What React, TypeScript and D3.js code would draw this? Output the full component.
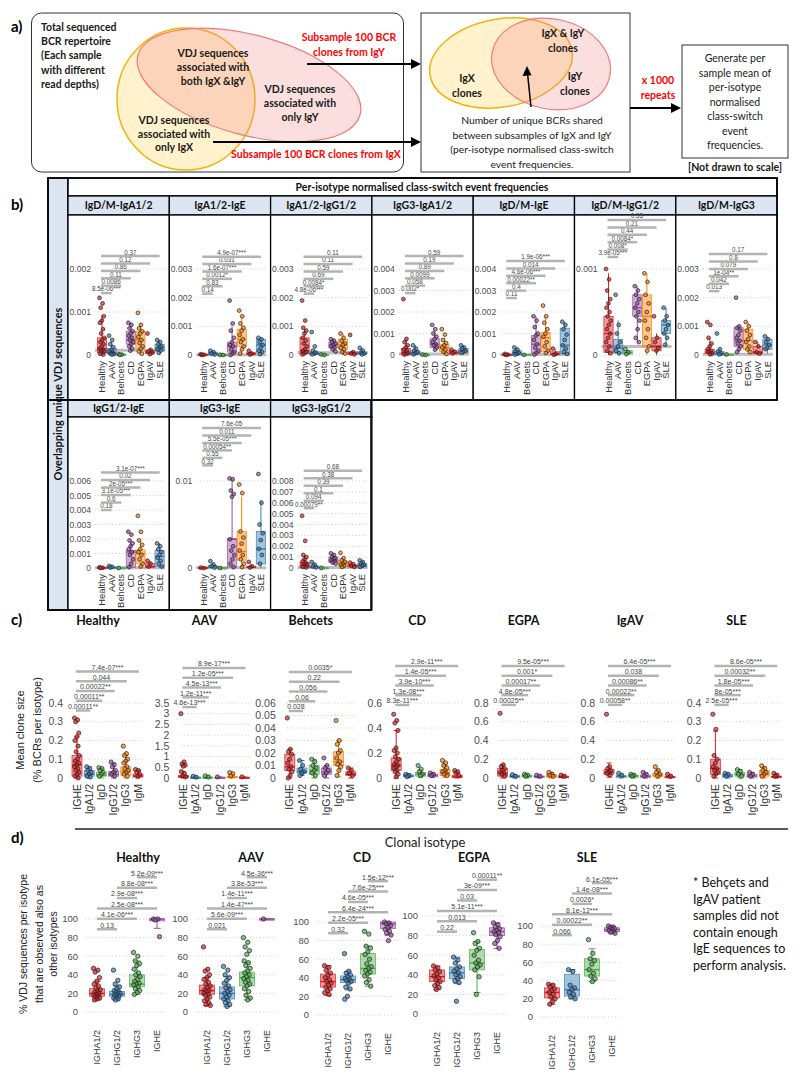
import React from "react";
import * as d3 from "d3";

const RED = "#E41A1C", BLUE = "#377EB8", GREEN = "#4DAF4A", PURPLE = "#984EA3", ORANGE = "#FF7F00";
const FONT = "'Liberation Sans', Arial, sans-serif";
const HFONT = "Lato, 'Open Sans', sans-serif";

// ---------------- Panel b data (values in units of 0.001) ----------------
const bGroups = ["Healthy", "AAV", "Behcets", "CD", "EGPA", "IgAV", "SLE"];
const bColors = [RED, BLUE, GREEN, PURPLE, ORANGE, RED, BLUE];
const bTitles = ["IgD/M-IgA1/2", "IgA1/2-IgE", "IgA1/2-IgG1/2", "IgG3-IgA1/2", "IgD/M-IgE", "IgD/M-IgG1/2", "IgD/M-IgG3", "IgG1/2-IgE", "IgG3-IgE", "IgG3-IgG1/2"];
const bTicks = [[0, 1, 2], [0, 1, 2, 3], [0, 1, 2, 3], [0, 1, 2, 3, 4], [0, 1, 2, 3, 4], [0, 1], [0, 1, 2, 3], [0, 1, 2, 3, 4, 5, 6], [0, 10], [0, 1, 2, 3, 4, 5, 6, 7, 8]];
const bTickLabels = [
  ["0", "0.001", "0.002"],
  ["0", "0.001", "0.002", "0.003"],
  ["0", "0.001", "0.002", "0.003"],
  ["0", "0.001", "0.002", "0.003", "0.004"],
  ["0", "0.001", "0.002", "0.003", "0.004"],
  ["0", "0.001"],
  ["0", "0.001", "0.002", "0.003"],
  ["0", "0.001", "0.002", "0.003", "0.004", "0.005", "0.006"],
  ["0", "0.01"],
  ["0", "0.001", "0.002", "0.003", "0.004", "0.005", "0.006", "0.007", "0.008"],
];
const bP = [
  ["0.37", "0.12", "0.86", "0.11", "0.0086", "8.5e-06***"],
  ["4.9e-07***", "0.031", "1.6e-07***", "0.0012*", "0.83", "0.14"],
  ["0.11", "0.11", "0.59", "0.69", "0.0084*", "4.8e-06***"],
  ["0.59", "0.19", "0.89", "0.0099", "0.058", "0.002*"],
  ["1.9e-06***", "0.014", "4.6e-06***", "0.00022**", "0.4", "0.11"],
  ["0.55", "0.21", "0.44", "0.0084*", "0.008*", "3.9e-05***"],
  ["0.17", "0.8", "0.079", "1e-04**", "0.042", "0.013"],
  ["3.1e-07***", "0.02", "2e-05***", "3.1e-05***", "0.6", "0.18"],
  ["7.6e-05", "0.011", "5.5e-05***", "0.00054**", "0.55", "0.32"],
  ["0.68", "0.38", "0.39", "0.1", "0.094", "0.00079**"],
];
const bBracketBase = [1.44, 2.14, 2.14, 2.88, 2.65, 1.14, 2.23, 4.0, 11.8, 5.5];
const bRef = [0.11, 0.01, 0.08, 0.05, 0.02, 0.1, 0.03, 0.01, 0.02, 0.05];
// [lo, q1, median, q3, hi] per group
const bStats = [
  [[0, 0.05, 0.15, 0.4, 0.93], [0, 0.02, 0.05, 0.15, 0.3], [0, 0.005, 0.01, 0.02, 0.03], [0.1, 0.25, 0.35, 0.55, 0.75], [0, 0.15, 0.35, 0.55, 0.75], [0, 0.03, 0.06, 0.1, 0.15], [0.02, 0.1, 0.17, 0.25, 0.35]],
  [[0, 0, 0.01, 0.02, 0.03], [0, 0.02, 0.05, 0.1, 0.15], [0, 0, 0.005, 0.01, 0.01], [0, 0.1, 0.3, 0.45, 1.0], [0, 0.3, 0.55, 0.9, 1.35], [0, 0.02, 0.04, 0.08, 0.12], [0, 0.1, 0.35, 0.55, 0.6]],
  [[0, 0.05, 0.15, 0.6, 0.9], [0, 0.02, 0.05, 0.1, 0.2], [0, 0, 0.01, 0.02, 0.02], [0.1, 0.25, 0.35, 0.45, 0.55], [0, 0.2, 0.35, 0.55, 0.75], [0, 0.02, 0.05, 0.1, 0.15], [0, 0.03, 0.05, 0.1, 0.25]],
  [[0, 0.03, 0.1, 0.3, 0.8], [0, 0.03, 0.1, 0.2, 0.45], [0, 0, 0.01, 0.02, 0.03], [0.2, 0.35, 0.5, 0.75, 1.1], [0, 0.15, 0.35, 0.5, 0.8], [0, 0.05, 0.1, 0.2, 0.25], [0, 0.1, 0.2, 0.3, 0.45]],
  [[0, 0, 0.01, 0.02, 0.05], [0, 0.02, 0.1, 0.2, 0.35], [0, 0, 0.01, 0.02, 0.02], [0, 0.1, 0.5, 0.9, 1.8], [0, 0.15, 0.8, 1.05, 1.8], [0, 0.02, 0.05, 0.15, 0.3], [0, 0.05, 0.45, 1.25, 1.55]],
  [[0, 0.03, 0.25, 0.45, 0.95], [0, 0.02, 0.08, 0.18, 0.4], [0, 0.01, 0.03, 0.05, 0.07], [0.15, 0.45, 0.55, 0.7, 0.8], [0, 0.1, 0.45, 0.7, 0.95], [0, 0.05, 0.1, 0.2, 0.25], [0.1, 0.25, 0.35, 0.4, 0.55]],
  [[0, 0.05, 0.1, 0.2, 0.6], [0, 0.02, 0.05, 0.12, 0.2], [0, 0, 0.01, 0.02, 0.03], [0.1, 0.3, 0.5, 0.95, 1.0], [0, 0.2, 0.5, 0.9, 1.15], [0, 0.05, 0.1, 0.3, 0.45], [0.05, 0.2, 0.35, 0.55, 0.65]],
  [[0, 0, 0.01, 0.03, 0.05], [0, 0.01, 0.03, 0.07, 0.15], [0, 0, 0, 0.01, 0.01], [0, 0.05, 1.1, 1.2, 1.9], [0, 0.3, 1.0, 1.25, 1.9], [0, 0.05, 0.1, 0.3, 0.5], [0, 0.1, 0.8, 1.2, 1.7]],
  [[0, 0, 0, 0.05, 0.1], [0, 0.05, 0.1, 0.3, 0.5], [0, 0, 0, 0.02, 0.05], [0, 0.1, 3.3, 3.4, 10.3], [0, 0.9, 1.9, 4.2, 8.2], [0, 0.05, 0.1, 0.2, 0.4], [0, 0.45, 2.2, 4.2, 7.8]],
  [[0, 0.05, 0.25, 0.5, 1.2], [0, 0.02, 0.1, 0.2, 0.5], [0, 0, 0.01, 0.02, 0.03], [0.3, 0.5, 0.7, 1.0, 1.35], [0, 0.2, 0.4, 0.65, 0.9], [0, 0.1, 0.2, 0.3, 0.5], [0, 0.1, 0.25, 0.4, 0.7]],
];
const bPts = [
  [[1.33, 1.2, 1.1, 0.9, 0.8, 0.75, 0.6, 0.5, 0.4, 0.35, 0.3, 0.25, 0.2, 0.15, 0.12, 0.1, 0.08, 0.05, 0.03, 0.01], [0.45, 0.35, 0.25, 0.18, 0.12, 0.08, 0.05, 0.03, 0.02, 0.01], [0.02, 0.01, 0.005], [0.75, 0.7, 0.62, 0.55, 0.5, 0.45, 0.4, 0.35, 0.3, 0.25, 0.2, 0.15, 0.1], [0.98, 0.7, 0.62, 0.55, 0.5, 0.42, 0.35, 0.28, 0.2, 0.15, 0.08, 0.03], [0.5, 0.12, 0.08, 0.05, 0.02], [0.35, 0.3, 0.25, 0.2, 0.17, 0.13, 0.1, 0.05]],
  [[0.03, 0.01, 0], [0.15, 0.1, 0.05, 0.02], [0.01, 0], [1.9, 1.1, 0.85, 0.6, 0.45, 0.35, 0.3, 0.2, 0.1, 0.05, 0], [1.55, 1.35, 1.1, 0.95, 0.85, 0.7, 0.55, 0.45, 0.3, 0.2, 0.05], [0.15, 0.05, 0.02], [0.6, 0.55, 0.45, 0.35, 0.25, 0.15, 0.1, 0.03]],
  [[1.9, 1.2, 0.95, 0.85, 0.75, 0.6, 0.5, 0.4, 0.3, 0.2, 0.15, 0.1, 0.05, 0.02], [0.8, 0.3, 0.15, 0.08, 0.05, 0.02], [0.02, 0], [0.55, 0.5, 0.45, 0.4, 0.35, 0.3, 0.25, 0.2, 0.12], [0.75, 0.6, 0.5, 0.4, 0.35, 0.25, 0.2, 0.1, 0.05], [0.7, 0.1, 0.05, 0.02], [0.25, 0.15, 0.08, 0.05, 0.02]],
  [[2.6, 0.75, 0.6, 0.45, 0.35, 0.25, 0.2, 0.12, 0.08, 0.05, 0.02], [0.45, 0.3, 0.2, 0.12, 0.08, 0.03], [0.02, 0], [1.4, 1.2, 1.0, 0.85, 0.75, 0.6, 0.5, 0.45, 0.35, 0.25], [1.2, 0.95, 0.7, 0.55, 0.45, 0.35, 0.25, 0.15, 0.05], [0.25, 0.15, 0.08], [0.45, 0.35, 0.3, 0.2, 0.15, 0.1]],
  [[0.05, 0.02, 0], [0.35, 0.25, 0.15, 0.1, 0.05, 0.02], [0.01], [1.8, 1.6, 1.3, 1.0, 0.9, 0.7, 0.5, 0.35, 0.2, 0.1, 0.02], [2.3, 1.8, 1.5, 1.2, 1.0, 0.85, 0.6, 0.4, 0.2, 0.1], [0.3, 0.05, 0.01], [1.55, 1.4, 1.2, 0.95, 0.7, 0.45, 0.3, 0.15, 0.05]],
  [[1.0, 0.88, 0.75, 0.65, 0.6, 0.55, 0.5, 0.45, 0.4, 0.35, 0.3, 0.25, 0.2, 0.15, 0.1, 0.05, 0.02], [0.7, 0.35, 0.25, 0.15, 0.1, 0.05, 0.02], [0.07, 0.03, 0.01], [0.8, 0.75, 0.7, 0.65, 0.6, 0.55, 0.5, 0.45, 0.4, 0.3, 0.2, 0.15], [0.95, 0.85, 0.7, 0.6, 0.5, 0.4, 0.3, 0.2, 0.1, 0.05], [0.45, 0.2, 0.15, 0.08, 0.05], [0.55, 0.45, 0.4, 0.35, 0.3, 0.25, 0.2, 0.12]],
  [[1.15, 1.05, 0.6, 0.4, 0.3, 0.2, 0.15, 0.1, 0.05, 0.02], [0.75, 0.2, 0.12, 0.05, 0.02], [0.02], [2.0, 1.0, 0.95, 0.85, 0.7, 0.6, 0.5, 0.4, 0.3, 0.2, 0.1], [1.15, 1.0, 0.85, 0.7, 0.55, 0.45, 0.3, 0.2, 0.1], [0.45, 0.3, 0.1, 0.05], [0.65, 0.55, 0.45, 0.35, 0.25, 0.2]],
  [[0.05, 0.02, 0], [0.15, 0.08, 0.03], [0], [2.5, 2.3, 1.9, 1.7, 1.5, 1.3, 1.1, 0.9, 0.6, 0.3, 0.05], [3.6, 2.5, 1.9, 1.6, 1.3, 1.1, 0.9, 0.6, 0.3, 0.1], [0.5, 0.3, 0.1], [1.7, 1.5, 1.3, 1.1, 0.9, 0.7, 0.5, 0.3, 0.1]],
  [[0.05, 0], [0.8, 0.4, 0.2, 0.05], [0], [10.3, 10.2, 8.9, 8.5, 8.2, 3.3, 2.5, 2.0, 1.5, 1.0, 0.5, 0.1], [9.6, 8.6, 4.2, 3.5, 2.8, 2.0, 1.5, 1.0, 0.5, 0.1], [0.7, 0.2, 0.05], [10.8, 7.5, 5.0, 4.0, 3.2, 2.2, 1.5, 0.5]],
  [[4.8, 2.5, 1.2, 1.0, 0.8, 0.6, 0.5, 0.4, 0.3, 0.2, 0.1, 0.05], [0.55, 0.3, 0.15, 0.05], [0.01], [1.35, 1.2, 1.0, 0.9, 0.8, 0.7, 0.6, 0.5, 0.4], [1.4, 0.9, 0.7, 0.55, 0.4, 0.3, 0.2, 0.1], [0.5, 0.35, 0.2, 0.1], [0.7, 0.55, 0.4, 0.3, 0.2, 0.1]],
];

// ---------------- Panel c data ----------------
const cTitles = ["Healthy", "AAV", "Behcets", "CD", "EGPA", "IgAV", "SLE"];
const cGroups = ["IGHE", "IgA1/2", "IgD", "IgG1/2", "IgG3", "IgM"];
const cColors = [RED, BLUE, GREEN, PURPLE, ORANGE, RED];
const cTicks = [[0, 0.1, 0.2, 0.3, 0.4], [0, 0.5, 1, 1.5, 2, 2.5, 3, 3.5], [0, 0.01, 0.02, 0.03, 0.04, 0.05, 0.06], [0, 0.2, 0.4, 0.6], [0, 0.2, 0.4, 0.6, 0.8], [0, 0.2, 0.4, 0.6, 0.8], [0, 0.1, 0.2, 0.3, 0.4]];
const cTickLabels = [
  ["0", "0.1", "0.2", "0.3", "0.4"],
  ["0", "0.5", "1", "1.5", "2", "2.5", "3", "3.5"],
  ["0", "0.01", "0.02", "0.03", "0.04", "0.05", "0.06"],
  ["0", "0.2", "0.4", "0.6"],
  ["0", "0.2", "0.4", "0.6", "0.8"],
  ["0", "0.2", "0.4", "0.6", "0.8"],
  ["0", "0.1", "0.2", "0.3", "0.4"],
];
const cP = [
  ["7.4e-07***", "0.044", "0.00022**", "0.00011**", "0.00011**"],
  ["8.9e-17***", "1.2e-05***", "4.5e-13***", "1.2e-11***", "4.6e-13***"],
  ["0.0035*", "0.22", "0.056", "0.06", "0.028"],
  ["2.9e-11***", "1.4e-05***", "3.9e-10***", "1.3e-08***", "8.3e-11***"],
  ["9.5e-05***", "0.001*", "0.00017**", "4.8e-05***", "0.00025**"],
  ["6.4e-05***", "0.038", "0.00086**", "0.00022**", "0.00058**"],
  ["8.6e-05***", "0.00032**", "1.8e-05***", "8e-05***", "2.5e-05***"],
];
const cBracketBase = [0.36, 3.31, 0.0536, 0.584, 0.78, 0.78, 0.39];
const cStats = [
  [[0, 0.01, 0.07, 0.12, 0.22], [0, 0.01, 0.02, 0.04, 0.06], [0, 0.01, 0.015, 0.03, 0.05], [0, 0.01, 0.02, 0.035, 0.08], [0, 0.015, 0.035, 0.06, 0.12], [0, 0.005, 0.01, 0.02, 0.04]],
  [[0, 0.02, 0.07, 0.12, 0.3], [0, 0.01, 0.02, 0.04, 0.08], [0, 0.01, 0.02, 0.04, 0.1], [0, 0.01, 0.02, 0.03, 0.05], [0, 0.02, 0.04, 0.08, 0.15], [0, 0.01, 0.02, 0.03, 0.05]],
  [[0, 0.006, 0.009, 0.019, 0.023], [0.002, 0.004, 0.005, 0.008, 0.014], [0, 0.003, 0.006, 0.01, 0.015], [0, 0.003, 0.005, 0.008, 0.01], [0.001, 0.01, 0.013, 0.021, 0.03], [0, 0.002, 0.003, 0.005, 0.008]],
  [[0, 0.06, 0.1, 0.16, 0.38], [0.005, 0.01, 0.015, 0.025, 0.035], [0.005, 0.015, 0.03, 0.045, 0.06], [0.005, 0.01, 0.02, 0.03, 0.04], [0.005, 0.02, 0.04, 0.07, 0.1], [0, 0.005, 0.01, 0.02, 0.04]],
  [[0, 0.02, 0.05, 0.1, 0.14], [0, 0.01, 0.015, 0.025, 0.035], [0, 0.01, 0.02, 0.03, 0.04], [0, 0.01, 0.015, 0.02, 0.03], [0, 0.01, 0.02, 0.04, 0.06], [0, 0.005, 0.01, 0.02, 0.03]],
  [[0.01, 0.04, 0.06, 0.09, 0.16], [0, 0.01, 0.015, 0.025, 0.04], [0, 0.01, 0.02, 0.03, 0.04], [0, 0.01, 0.015, 0.03, 0.05], [0, 0.015, 0.03, 0.05, 0.09], [0, 0.005, 0.01, 0.015, 0.03]],
  [[0, 0.02, 0.05, 0.1, 0.25], [0, 0.005, 0.01, 0.02, 0.025], [0, 0.01, 0.02, 0.03, 0.045], [0, 0.005, 0.01, 0.02, 0.03], [0, 0.01, 0.02, 0.04, 0.06], [0, 0.003, 0.006, 0.01, 0.02]],
];
const cPts = [
  [[0.32, 0.31, 0.3, 0.24, 0.22, 0.2, 0.17, 0.14, 0.12, 0.1, 0.09, 0.08, 0.07, 0.06, 0.05, 0.04, 0.03, 0.02, 0.01, 0], [0.06, 0.05, 0.04, 0.03, 0.02, 0.01, 0.005], [0.055, 0.05, 0.04, 0.03, 0.02, 0.01], [0.085, 0.07, 0.06, 0.04, 0.03, 0.02, 0.01], [0.17, 0.13, 0.12, 0.1, 0.09, 0.08, 0.06, 0.05, 0.04, 0.03, 0.02, 0.01], [0.045, 0.04, 0.03, 0.02, 0.01]],
  [[3.0, 0.75, 0.65, 0.6, 0.55, 0.3, 0.2, 0.1, 0.05], [0.08, 0.04], [0.1, 0.05], [0.05], [0.25, 0.2, 0.1], [0.05]],
  [[0.048, 0.023, 0.021, 0.019, 0.015, 0.012, 0.009, 0.007, 0.005, 0.002, 0], [0.014, 0.01, 0.007, 0.005, 0.004, 0.002], [0.015, 0.013, 0.01, 0.008, 0.006, 0.004, 0.002], [0.016, 0.01, 0.008, 0.006, 0.004, 0.002], [0.046, 0.03, 0.027, 0.022, 0.02, 0.016, 0.013, 0.011, 0.009, 0.006, 0.002], [0.008, 0.006, 0.004, 0.002]],
  [[0.51, 0.46, 0.44, 0.38, 0.24, 0.22, 0.2, 0.17, 0.15, 0.13, 0.11, 0.1, 0.09, 0.08, 0.06, 0.05, 0.03, 0.01], [0.03, 0.02, 0.01], [0.1, 0.07, 0.05, 0.03, 0.02], [0.04, 0.03, 0.02], [0.14, 0.12, 0.1, 0.08, 0.06, 0.05, 0.04, 0.03, 0.02], [0.06, 0.05, 0.04, 0.02]],
  [[0.69, 0.14, 0.12, 0.1, 0.08, 0.06, 0.05, 0.04, 0.02], [0.035, 0.02], [0.04, 0.03, 0.02], [0.03, 0.02], [0.06, 0.04, 0.03, 0.02], [0.03, 0.02]],
  [[0.68, 0.12, 0.1, 0.08, 0.06, 0.05, 0.03], [0.05, 0.03], [0.04, 0.03, 0.02], [0.06, 0.04, 0.02], [0.12, 0.08, 0.06, 0.04, 0.02], [0.04, 0.02]],
  [[0.34, 0.26, 0.12, 0.1, 0.08, 0.06, 0.05, 0.04, 0.03, 0.02, 0.01], [0.025, 0.02, 0.01], [0.045, 0.035, 0.02, 0.01], [0.03, 0.02, 0.01], [0.065, 0.05, 0.04, 0.03, 0.02, 0.01], [0.025, 0.015, 0.01]],
];

// ---------------- Panel d data ----------------
const dTitles = ["Healthy", "AAV", "CD", "EGPA", "SLE"];
const dGroups = ["IGHA1/2", "IGHG1/2", "IGHG3", "IGHE"];
const dColors = [RED, BLUE, GREEN, PURPLE];
const dTicks = [0, 20, 40, 60, 80, 100];
const dTickLabels = ["0", "20", "40", "60", "80", "100"];
const dP = [
  ["5.2e-09***", "8.8e-08***", "2.9e-08***", "2.5e-08***", "4.1e-06***", "0.13"],
  ["4.5e-36***", "3.8e-53***", "1.4e-11***", "1.4e-47***", "5.6e-09***", "0.021"],
  ["1.5e-12***", "7.6e-25***", "4.6e-05***", "6.4e-24***", "2.2e-05***", "0.32"],
  ["0.00011**", "3e-09***", "0.03", "5.1e-11***", "0.013", "0.22"],
  ["6.1e-05***", "1.4e-08***", "0.0026*", "8.1e-12***", "0.00022**", "0.066"],
];
const dPairs = [[0, 1], [0, 2], [0, 3], [1, 2], [1, 3], [2, 3]];
const dBracketBase = [89, 89, 88, 84, 90];
const dStats = [
  [[13, 17, 20, 25, 33], [13, 17, 19, 22, 28], [19, 27, 30, 40, 55], [90, 98, 100, 100, 100]],
  [[7, 19, 23, 29, 37], [6, 14, 20, 27, 38], [13, 28, 37, 43, 53], [100, 100, 100, 100, 100]],
  [[21, 30, 36, 44, 53], [27, 35, 38, 42, 47], [31, 44, 50, 66, 74], [86, 93, 98, 100, 100]],
  [[25, 33, 38, 45, 49], [31, 36, 42, 48, 58], [22, 45, 52, 66, 74], [67, 80, 84, 88, 93]],
  [[14, 21, 27, 32, 36], [20, 23, 30, 47, 52], [39, 45, 52, 64, 75], [92, 94, 96, 98, 100]],
];
const dPts = [
  [[47, 45, 43, 37, 33, 30, 28, 26, 24, 22, 21, 20, 19, 18, 17, 16, 15, 14, 13], [45, 34, 30, 27, 25, 23, 22, 21, 20, 19, 18, 17, 16, 15, 14, 13], [64, 60, 55, 52, 50, 46, 42, 40, 38, 35, 33, 31, 30, 29, 27, 25, 23, 21, 19], [100, 100, 99, 81]],
  [[70, 46, 44, 40, 37, 35, 32, 30, 28, 26, 24, 23, 22, 20, 19, 18, 16, 14, 12, 10, 8, 7], [49, 45, 40, 37, 34, 31, 28, 26, 24, 22, 20, 18, 16, 14, 12, 10, 8, 6], [80, 75, 70, 66, 62, 55, 53, 50, 47, 44, 42, 40, 38, 36, 34, 32, 30, 28, 25, 22, 18, 15, 13], [100]],
  [[53, 51, 48, 45, 43, 40, 38, 36, 34, 32, 30, 28, 26, 24, 22], [66, 47, 45, 43, 41, 39, 38, 37, 36, 34, 30, 28, 20, 17], [90, 87, 74, 72, 68, 65, 60, 55, 52, 50, 48, 46, 44, 42, 38, 35, 31], [100, 99, 98, 96, 94, 92, 90, 88, 86, 80]],
  [[49, 47, 45, 43, 41, 39, 37, 35, 33, 31, 29, 27, 25], [58, 55, 52, 48, 46, 44, 42, 40, 38, 36, 34, 32, 13], [83, 74, 72, 67, 65, 60, 55, 52, 50, 48, 45, 38, 20], [93, 91, 89, 87, 85, 84, 83, 81, 79, 75, 72, 67]],
  [[36, 35, 33, 31, 29, 27, 25, 22, 20, 17, 14], [52, 50, 35, 32, 30, 27, 25, 22, 20], [85, 70, 64, 62, 58, 52, 48, 45, 42, 39], [100, 99, 98, 97, 96, 95, 94, 93, 92]],
];

// ---------------- layout ----------------
const D_LAYOUT = [
  { cat0: 97, y0: 1012, y100: 919, tx: 138 },
  { cat0: 207, y0: 1012, y100: 919, tx: 251 },
  { cat0: 328, y0: 1015, y100: 922, tx: 362 },
  { cat0: 437, y0: 1014, y100: 916, tx: 474 },
  { cat0: 552, y0: 1017, y100: 926, tx: 587 },
];

const jit = (j: number, w: number) => (((j * 0.6180339) % 1) - 0.5) * w;

function Boxes({ cats, colors, x, y, stats, pts, bw, r, jw, cap }: any) {
  return (
    <g>
      {cats.map((c: string, i: number) => {
        const cx = x(c);
        const [lo, q1, med, q3, hi] = stats[i];
        const col = colors[i];
        return (
          <g key={c}>
            <line x1={cx} x2={cx} y1={y(hi)} y2={y(q3)} stroke={col} strokeWidth={1} />
            <line x1={cx} x2={cx} y1={y(q1)} y2={y(lo)} stroke={col} strokeWidth={1} />
            <line x1={cx - cap / 2} x2={cx + cap / 2} y1={y(hi)} y2={y(hi)} stroke={col} strokeWidth={1} />
            <line x1={cx - cap / 2} x2={cx + cap / 2} y1={y(lo)} y2={y(lo)} stroke={col} strokeWidth={1} />
            <rect x={cx - bw / 2} y={y(q3)} width={bw} height={Math.max(1.2, y(q1) - y(q3))} fill={col} fillOpacity={0.45} stroke={col} strokeOpacity={0.85} strokeWidth={0.8} />
            <line x1={cx - bw / 2} x2={cx + bw / 2} y1={y(med)} y2={y(med)} stroke={col} strokeWidth={1.5} />
            {pts[i].map((v: number, j: number) => (
              <circle key={j} cx={cx + jit(j, jw)} cy={y(v)} r={r} fill={col} fillOpacity={0.7} stroke="#222" strokeWidth={0.7} />
            ))}
          </g>
        );
      })}
    </g>
  );
}

function Bracket({ x1, x2, y, label, fs }: any) {
  return (
    <g>
      <line x1={x1} x2={x2} y1={y} y2={y} stroke="#b3b3b3" strokeWidth={2.5} />
      <text x={(x1 + x2) / 2} y={y - 1.6} fontSize={fs} textAnchor="middle" fill="#444" fontFamily={FONT}>{label}</text>
    </g>
  );
}

function YAxis({ ticks, labels, y, xr, gx1, gx2, fs }: any) {
  return (
    <g>
      {ticks.map((t: number, i: number) => (
        <g key={i}>
          <line x1={gx1} x2={gx2} y1={y(t)} y2={y(t)} stroke="#c8c8c8" strokeWidth={0.8} strokeDasharray="1.2,2.2" />
          <text x={xr} y={y(t)} dy="0.35em" fontSize={fs} textAnchor="end" fill="#4d4d4d" fontFamily={FONT}>{labels[i]}</text>
        </g>
      ))}
    </g>
  );
}

function XLabels({ cats, x, ytop, fs }: any) {
  return (
    <g>
      {cats.map((c: string) => (
        <text key={c} transform={`translate(${x(c) + fs * 0.35},${ytop}) rotate(-90)`} fontSize={fs} textAnchor="end" fill="#333" fontFamily={FONT}>{c}</text>
      ))}
    </g>
  );
}

// ---------------- Panel a ----------------
function Arrow({ x1, x2, y }: any) {
  return (
    <g>
      <line x1={x1} x2={x2 - 8} y1={y} y2={y} stroke="#000" strokeWidth={2.2} />
      <polygon points={`${x2},${y} ${x2 - 10},${y - 5} ${x2 - 10},${y + 5}`} fill="#000" />
    </g>
  );
}

function TextLines({ x, y0, dy, lines, fs, weight, fill, anchor }: any) {
  return (
    <text fontFamily={HFONT} fontSize={fs} fontWeight={weight} fill={fill} textAnchor={anchor}>
      {lines.map((l: string, i: number) => (
        <tspan key={i} x={x} y={y0 + i * dy}>{l}</tspan>
      ))}
    </text>
  );
}

function PanelA() {
  const dark = "#1a1a1a";
  return (
    <g>
      <text x={11} y={32} fontFamily={HFONT} fontWeight={700} fontSize={15}>a)</text>
      <rect x={31.5} y={13} width={372} height={159} rx={10} fill="none" stroke="#333" strokeWidth={1} />
      <ellipse cx={186} cy={99} rx={69} ry={71} fill="#fff2cc" stroke="#f2b40c" strokeWidth={1.5} />
      <ellipse cx={249} cy={85} rx={115} ry={50} transform="rotate(15 249 85)" fill="#f08a8a" fillOpacity={0.28} stroke="#ee7b7b" strokeWidth={1.2} />
      <TextLines x={41} y0={31} dy={14.2} lines={["Total sequenced", "BCR repertoire", "(Each sample", "with different", "read depths)"]} fs={10.5} weight={700} fill={dark} anchor="start" />
      <TextLines x={213} y0={57} dy={14} lines={["VDJ sequences", "associated with", "both IgX &IgY"]} fs={10.5} weight={700} fill={dark} anchor="middle" />
      <TextLines x={300} y0={93} dy={14} lines={["VDJ sequences", "associated with", "only IgY"]} fs={10.5} weight={700} fill={dark} anchor="middle" />
      <TextLines x={174} y0={124} dy={13.6} lines={["VDJ sequences", "associated with", "only IgX"]} fs={10.5} weight={700} fill={dark} anchor="middle" />
      <TextLines x={349} y0={41} dy={14.5} lines={["Subsample 100 BCR", "clones from IgY"]} fs={10.5} weight={700} fill="#ff0000" anchor="middle" />
      <Arrow x1={307} x2={421} y={64} />
      <Arrow x1={213} x2={421} y={142} />
      <TextLines x={316} y0={158} dy={14} lines={["Subsample 100 BCR clones from IgX"]} fs={10.5} weight={700} fill="#ff0000" anchor="middle" />

      <rect x={421} y={13} width={209} height={159} fill="none" stroke="#333" strokeWidth={1} />
      <ellipse cx={501} cy={63} rx={72} ry={44} transform="rotate(-10 501 63)" fill="#fff2cc" stroke="#f2b40c" strokeWidth={1.5} />
      <ellipse cx={551} cy={64} rx={60} ry={45} transform="rotate(12 551 64)" fill="#f08a8a" fillOpacity={0.28} stroke="#ee7b7b" strokeWidth={1.2} />
      <TextLines x={563} y0={37} dy={15} lines={["IgX & IgY", "clones"]} fs={10.5} weight={700} fill={dark} anchor="middle" />
      <TextLines x={467} y0={82} dy={14.5} lines={["IgX", "clones"]} fs={10.5} weight={700} fill={dark} anchor="middle" />
      <TextLines x={575} y0={80} dy={14.5} lines={["IgY", "clones"]} fs={10.5} weight={700} fill={dark} anchor="middle" />
      <line x1={531} y1={107} x2={527.6} y2={74} stroke="#000" strokeWidth={1.5} />
      <polygon points="527,66 522.5,76 531.5,75.2" fill="#000" />
      <TextLines x={532} y0={124} dy={14.6} lines={["Number of unique BCRs shared", "between subsamples of IgX and IgY", "(per-isotype normalised class-switch", "event frequencies."]} fs={10.3} weight={400} fill={dark} anchor="middle" />

      <Arrow x1={630} x2={681} y={108} />
      <TextLines x={658} y0={84} dy={14.5} lines={["x 1000", "repeats"]} fs={10.5} weight={700} fill="#ff0000" anchor="middle" />
      <rect x={682} y={45} width={106} height={113} fill="none" stroke="#333" strokeWidth={1} />
      <TextLines x={735} y0={62} dy={14.5} lines={["Generate per", "sample mean of", "per-isotype", "normalised", "class-switch", "event", "frequencies."]} fs={10.5} weight={400} fill={dark} anchor="middle" />
      <text x={735} y={171} fontFamily={HFONT} fontWeight={700} fontSize={10.5} textAnchor="middle" fill={dark}>[Not drawn to scale]</text>
    </g>
  );
}

// ---------------- Panel b ----------------
const B_X0 = 68, B_COLW = 101.3, B_STRIP = "#dce6f2";

function PanelBFacet({ p }: { p: number }) {
  const row = p < 7 ? 0 : 1;
  const col = row ? p - 7 : p;
  const x0 = B_X0 + col * B_COLW;
  const ticks = bTicks[p];
  const top = ticks[ticks.length - 1];
  const y = d3.scaleLinear().domain([0, top]).range(row ? [568, 481] : [355, 269]);
  const xs = d3.scalePoint<string>().domain(bGroups).range([x0 + 34, x0 + 34 + 6 * 9.6]);
  const x = (c: string) => xs(c) as number;
  const stripTop = row ? 400 : 196, stripBot = row ? 417 : 215, panelBot = row ? 610 : 400;
  const step = 0.086 * Math.abs(y(0) - y(top));
  const gx1 = x0 + 27, gx2 = x0 + 97;
  return (
    <g>
      <rect x={x0} y={stripTop} width={B_COLW} height={stripBot - stripTop} fill={B_STRIP} stroke="#000" strokeWidth={1.3} />
      <text x={x0 + B_COLW / 2} y={stripTop + (stripBot - stripTop) / 2 + 3.8} textAnchor="middle" fontFamily={HFONT} fontWeight={700} fontSize={10.5} fill="#111">{bTitles[p]}</text>
      <rect x={x0} y={stripBot} width={B_COLW} height={panelBot - stripBot} fill="#fff" stroke="#000" strokeWidth={1.3} />
      <YAxis ticks={ticks} labels={bTickLabels[p]} y={y} xr={x0 + 23} gx1={gx1} gx2={gx2} fs={8.6} />
      <line x1={gx1} x2={gx2} y1={y(bRef[p])} y2={y(bRef[p])} stroke="#bdbdbd" strokeWidth={3} />
      <Boxes cats={bGroups} colors={bColors} x={x} y={y} stats={bStats[p]} pts={bPts[p]} bw={9.2} r={1.9} jw={5} cap={0} />
      {bGroups.slice(1).map((g, k) => (
        <Bracket key={g} x1={x("Healthy") - 1} x2={x(g)} y={y(bBracketBase[p]) - k * step} label={bP[p][5 - k]} fs={6.3} />
      ))}
      <XLabels cats={bGroups} x={x} ytop={y(0) + 6} fs={9.4} />
    </g>
  );
}

function PanelB() {
  return (
    <g>
      <text x={11} y={210} fontFamily={HFONT} fontWeight={700} fontSize={15}>b)</text>
      <rect x={48} y={178} width={20} height={432} fill={B_STRIP} stroke="#000" strokeWidth={1.5} />
      <text transform="translate(62,394) rotate(-90)" textAnchor="middle" fontFamily={HFONT} fontWeight={700} fontSize={11} fill="#111">Overlapping unique VDJ sequences</text>
      <rect x={68} y={178} width={709} height={18} fill="#fff" stroke="#000" strokeWidth={1.5} />
      <text x={422} y={191} textAnchor="middle" fontFamily={HFONT} fontWeight={700} fontSize={10.5} fill="#111">Per-isotype normalised class-switch event frequencies</text>
      {bTitles.map((_, p) => <PanelBFacet key={p} p={p} />)}
      <rect x={48} y={178} width={729} height={222} fill="none" stroke="#000" strokeWidth={1.6} />
      <rect x={48} y={400} width={323} height={210} fill="none" stroke="#000" strokeWidth={1.6} />
    </g>
  );
}

// ---------------- Panel c ----------------
function PanelCCol({ i }: { i: number }) {
  const cat0 = 77 + 106.4 * i;
  const ticks = cTicks[i];
  const top = ticks[ticks.length - 1];
  const y = d3.scaleLinear().domain([0, top]).range([778, 703]);
  const xs = d3.scalePoint<string>().domain(cGroups).range([cat0, cat0 + 5 * 12.2]);
  const x = (c: string) => xs(c) as number;
  const step = 0.13 * 75;
  return (
    <g>
      <text x={cat0 + 21} y={625} textAnchor="middle" fontFamily={HFONT} fontWeight={700} fontSize={12.5} fill="#111">{cTitles[i]}</text>
      <YAxis ticks={ticks} labels={cTickLabels[i]} y={y} xr={cat0 - 14} gx1={cat0 - 3} gx2={cat0 + 66} fs={10.5} />
      <Boxes cats={cGroups} colors={cColors} x={x} y={y} stats={cStats[i]} pts={cPts[i]} bw={10} r={2.1} jw={5} cap={5} />
      {cGroups.slice(1).map((g, k) => (
        <Bracket key={g} x1={x("IGHE") - 1} x2={x(g) + 1} y={y(cBracketBase[i]) - k * step} label={cP[i][4 - k]} fs={7} />
      ))}
      <XLabels cats={cGroups} x={x} ytop={784} fs={10.5} />
    </g>
  );
}

function PanelC() {
  return (
    <g>
      <text x={11} y={625} fontFamily={HFONT} fontWeight={700} fontSize={15}>c)</text>
      <text transform="translate(24,730) rotate(-90)" textAnchor="middle" fontFamily={FONT} fontSize={11} fill="#222">Mean clone size</text>
      <text transform="translate(41,730) rotate(-90)" textAnchor="middle" fontFamily={FONT} fontSize={11} fill="#222">(% BCRs per isotype)</text>
      {cTitles.map((_, i) => <PanelCCol key={i} i={i} />)}
      <line x1={75} x2={788} y1={829} y2={829} stroke="#222" strokeWidth={1.5} />
      <text x={425} y={847} textAnchor="middle" fontFamily={HFONT} fontSize={13} fill="#222">Clonal isotype</text>
    </g>
  );
}

// ---------------- Panel d ----------------
function PanelDCol({ i }: { i: number }) {
  const L = D_LAYOUT[i];
  const y = d3.scaleLinear().domain([0, 100]).range([L.y0, L.y100]);
  const xs = d3.scalePoint<string>().domain(dGroups).range([L.cat0, L.cat0 + 60]);
  const x = (c: string) => xs(c) as number;
  const step = 10.4;
  return (
    <g>
      <text x={L.tx} y={862} textAnchor="middle" fontFamily={HFONT} fontWeight={700} fontSize={12.5} fill="#111">{dTitles[i]}</text>
      <YAxis ticks={dTicks} labels={dTickLabels} y={y} xr={L.cat0 - 19} gx1={L.cat0 - 12} gx2={L.cat0 + 70} fs={9.5} />
      <Boxes cats={dGroups} colors={dColors} x={x} y={y} stats={dStats[i]} pts={dPts[i]} bw={15} r={2.2} jw={7} cap={7} />
      {dPairs.map(([a, b], k) => (
        <Bracket key={k} x1={x(dGroups[a])} x2={x(dGroups[b])} y={y(dBracketBase[i]) - k * step} label={dP[i][5 - k]} fs={7} />
      ))}
      <XLabels cats={dGroups} x={x} ytop={L.y0 + 18} fs={9} />
    </g>
  );
}

function PanelD() {
  return (
    <g>
      <text x={11} y={843} fontFamily={HFONT} fontWeight={700} fontSize={15}>d)</text>
      <text transform="translate(27,944) rotate(-90)" textAnchor="middle" fontFamily={FONT} fontSize={10.5} fill="#222">% VDJ sequences per isotype</text>
      <text transform="translate(43,944) rotate(-90)" textAnchor="middle" fontFamily={FONT} fontSize={10.5} fill="#222">that are observed also as</text>
      <text transform="translate(57,944) rotate(-90)" textAnchor="middle" fontFamily={FONT} fontSize={10.5} fill="#222">other isotypes</text>
      {dTitles.map((_, i) => <PanelDCol key={i} i={i} />)}
      <TextLines x={693} y0={887} dy={16.5} lines={["* Behçets and", "IgAV patient", "samples did not", "contain enough", "IgE sequences to", "perform analysis."]} fs={12.5} weight={400} fill="#111" anchor="start" />
    </g>
  );
}

export default function App() {
  return (
    <svg width={800} height={1080} viewBox="0 0 800 1080" style={{ position: "absolute", left: 0, top: 0, background: "#fff" }}>
      <rect x={0} y={0} width={800} height={1080} fill="#fff" />
      <PanelA />
      <PanelB />
      <PanelC />
      <PanelD />
    </svg>
  );
}
